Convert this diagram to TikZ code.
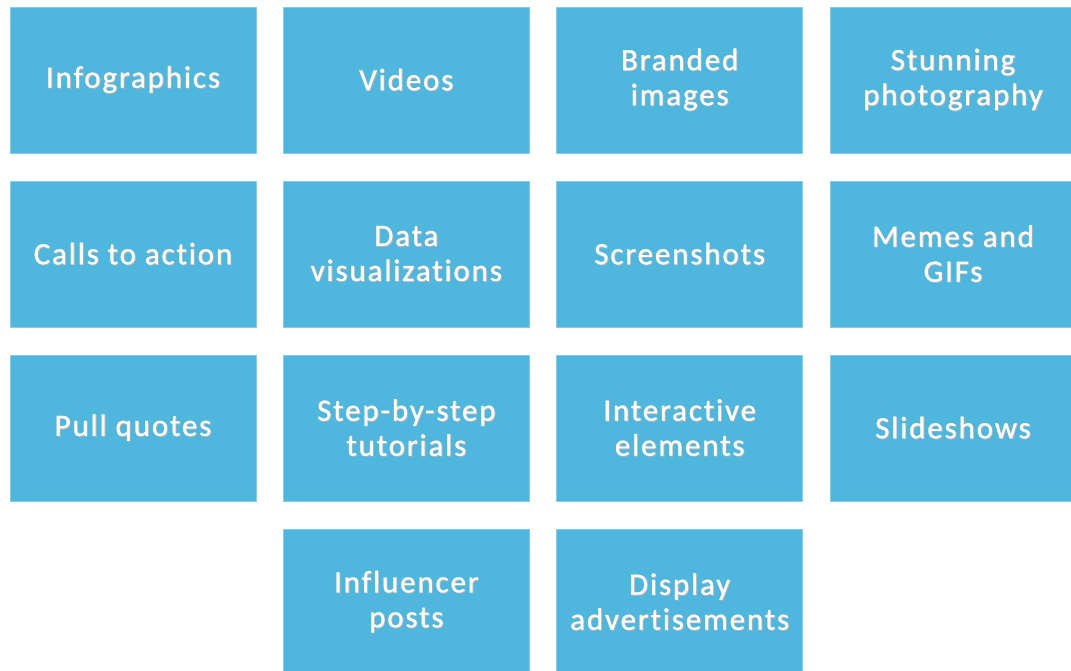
\documentclass[tikz,border=0pt]{standalone}
\usepackage{fontspec}
\setmainfont{Carlito}[LetterSpace=6, Ligatures={NoCommon}, FakeBold=0.9]
\usepackage{xcolor}
\usepackage{tikz}
\usetikzlibrary{positioning}

\definecolor{tileblue}{HTML}{4FB6DE}
% white text with a soft grey shadow
\newcommand{\shtext}[1]{\leavevmode\rlap{\kern0.9pt\raisebox{-0.9pt}{\textcolor{black!30}{#1}}}#1}

\begin{document}
\begin{tikzpicture}[
    x=1pt, y=1pt,
    node distance=28pt and 27.33pt,
    tilenode/.style={rectangle, fill=tileblue, draw=tileblue!70!white, line width=0.6pt,
        minimum width=246pt, minimum height=146pt, inner sep=0pt, outer sep=0pt,
        text=white, align=center, font=\fontsize{31}{35}\selectfont}
]
\useasboundingbox (0,0) rectangle (1071,-671);
% first row
\node[tilenode, anchor=north west](infographics) at (10,-7){\shtext{Infographics}};
\node[tilenode](videos)[right = of infographics]{\shtext{Videos}};
\node[tilenode](branded)[right = of videos]{\shtext{Branded}\\\shtext{images}};
\node[tilenode](stunning)[right = of branded]{\shtext{Stunning}\\\shtext{photography}};
% second row
\node[tilenode](calls)[below = of infographics]{\shtext{Calls to action}};
\node[tilenode](datavis)[right = of calls]{\shtext{Data}\\\shtext{visualizations}};
\node[tilenode](screenshots)[right = of datavis]{\shtext{Screenshots}};
\node[tilenode](memes)[right = of screenshots]{\shtext{Memes and}\\\shtext{GIFs}};
% third row
\node[tilenode](pullquotes)[below = of calls]{\shtext{Pull quotes}};
\node[tilenode](tutorials)[right = of pullquotes]{\shtext{Step-by-step}\\\shtext{tutorials}};
\node[tilenode](interactive)[right = of tutorials]{\shtext{Interactive}\\\shtext{elements}};
\node[tilenode](slideshows)[right = of interactive]{\shtext{Slideshows}};
% fourth row
\node[tilenode](influencer)[below = of tutorials]{\shtext{Influencer}\\\shtext{posts}};
\node[tilenode](display)[right = of influencer]{\shtext{Display}\\\shtext{advertisements}};
\end{tikzpicture}
\end{document}
